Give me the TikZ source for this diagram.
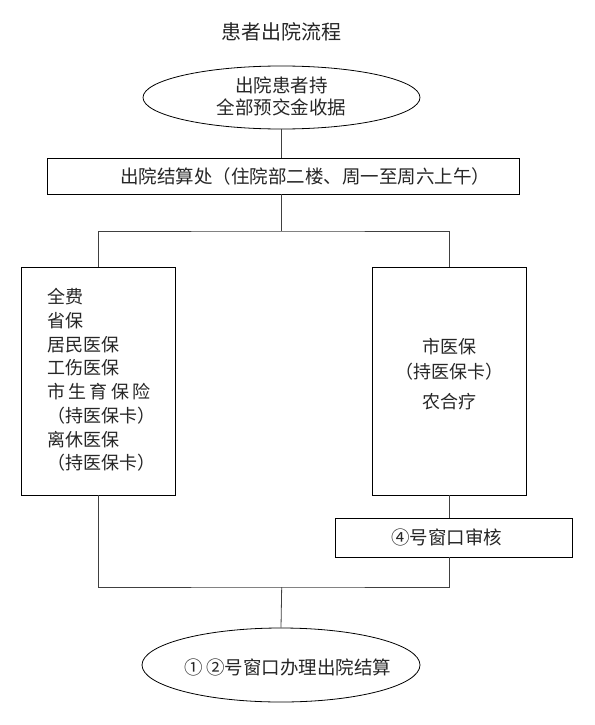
\documentclass[tikz,border=0pt]{standalone}
\usepackage{fontspec}
\setmainfont{Noto Sans CJK SC}
\usetikzlibrary{shapes.geometric}
\begin{document}
\begin{tikzpicture}[x=1pt,y=-1pt,
  box/.style={draw=black, line width=0.9pt, inner sep=0pt},
  oval/.style={draw=black, ellipse, line width=0.8pt, inner sep=0pt},
  conn/.style={draw=black!75, line width=0.8pt},
  txt/.style={text=black!85, font=\fontsize{18.5}{22}\selectfont}]
\useasboundingbox[fill=white] (0,0) rectangle (594,725);
\node[txt, font=\fontsize{20}{24}\selectfont] (title) at (281.5,32) {患者出院流程};
\node[oval, minimum width=277pt, minimum height=63pt] (e1) at (281.5,97.5) {};
\node[txt, align=center] (e1t) at (281.5,96.5) {出院患者持\\全部预交金收据};
\node[box, txt, minimum width=472pt, minimum height=36pt] (b2) at (283,176) {\hspace*{44pt}出院结算处（住院部二楼、周一至周六上午）};
\node[box, minimum width=154pt, minimum height=228pt] (lb) at (98.7,381) {};
\node[txt, align=left, font=\fontsize{18}{23.7}\selectfont] (lt) at (101,380) {全费\\省保\\居民医保\\工伤医保\\市\kern3.5pt生\kern3.5pt育\kern3.5pt保\kern3.5pt险\\（持医保卡）\\离休医保\\（持医保卡）};
\node[box, minimum width=154.4pt, minimum height=228pt] (rb) at (449.5,381) {};
\node[txt, align=center, font=\fontsize{18}{25}\selectfont] (rt) at (449,374.5) {市医保\\（持医保卡）\\[5pt]农合疗};
\node[box, txt, minimum width=237.7pt, minimum height=39pt] (w4) at (453.8,537.5) {④号窗口审核\hspace*{14pt}};
\node[oval, minimum width=278pt, minimum height=74pt] (e2) at (281,665) {};
\node[txt] (e2t) at (288,667) {①\,②号窗口办理出院结算};
\coordinate (j1) at (281.7,231);
\coordinate (j2) at (281.7,587);
\draw[conn] (e1.south) -- (e1.south |- b2.north);
\draw[conn] (j1 |- b2.south) -- (j1);
\draw[conn] (lb.north) |- (j1) -| (rb.north);
\draw[conn] (rb.south) -- (rb.south |- w4.north);
\draw[conn] (lb.south) |- (j2) -| (rb.south |- w4.south);
\draw[conn] (j2) -- (e2.north);
\end{tikzpicture}
\end{document}
